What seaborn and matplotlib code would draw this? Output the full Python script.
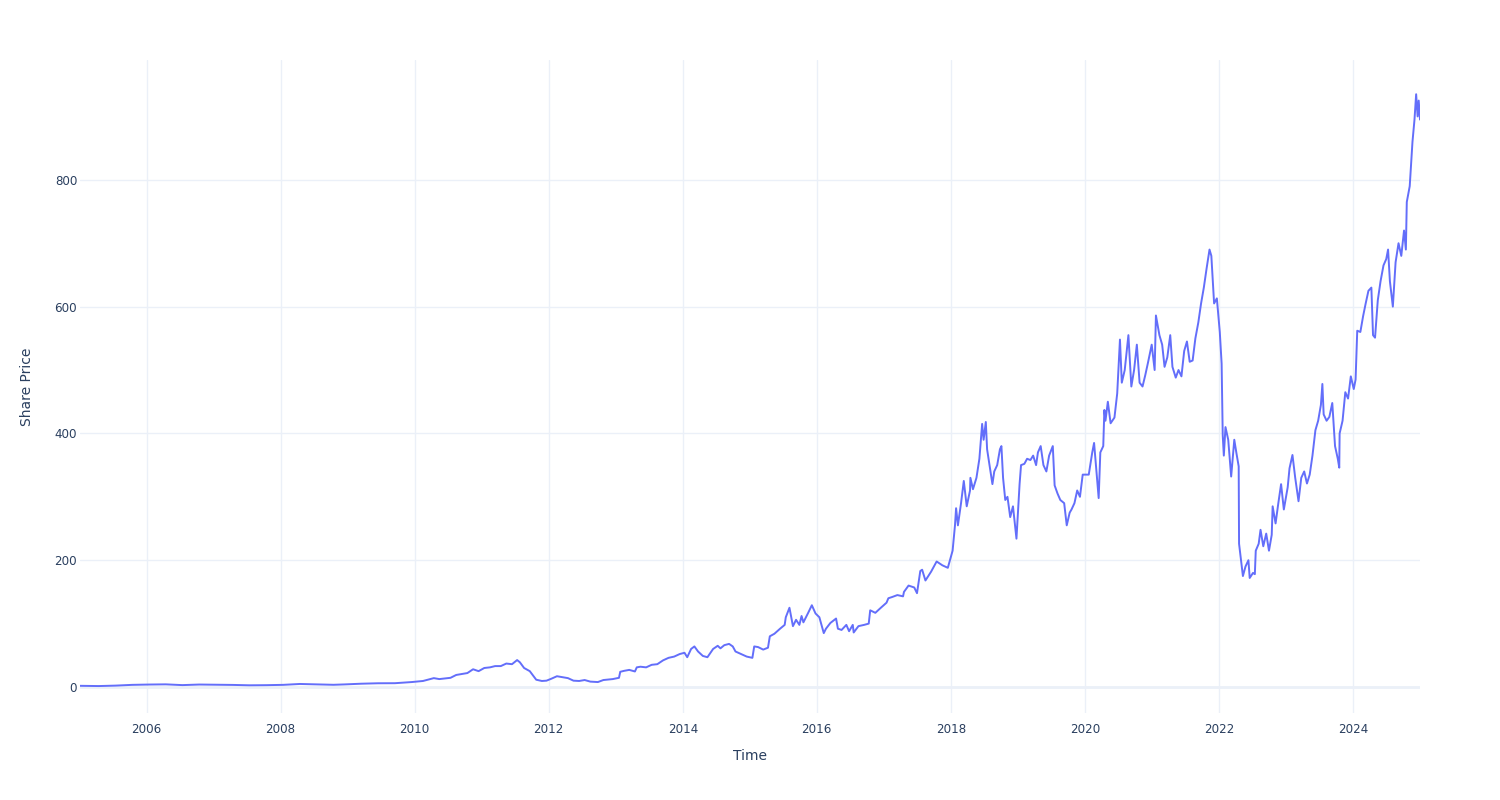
import matplotlib
matplotlib.use("Agg")
import matplotlib.pyplot as plt
import matplotlib.dates as mdates
import seaborn as sns
import pandas as pd

dates = [
    "2005-01-03", "2005-04-15", "2005-07-15", "2005-10-15", "2006-01-15", "2006-04-15",
    "2006-07-15", "2006-10-15", "2007-01-15", "2007-04-15", "2007-07-15", "2007-10-15",
    "2008-01-15", "2008-04-15", "2008-07-15", "2008-10-15", "2008-12-15", "2009-03-15",
    "2009-06-15", "2009-09-15", "2009-12-15", "2010-02-15", "2010-04-15", "2010-05-15",
    "2010-07-15", "2010-08-15", "2010-10-15", "2010-11-15", "2010-12-15", "2011-01-15",
    "2011-02-15", "2011-03-15", "2011-04-15", "2011-05-15", "2011-06-15", "2011-07-13",
    "2011-07-28", "2011-08-20", "2011-09-20", "2011-10-25", "2011-11-25", "2011-12-20",
    "2012-01-15", "2012-02-15", "2012-03-15", "2012-04-15", "2012-05-15", "2012-06-15",
    "2012-07-15", "2012-08-15", "2012-09-25", "2012-10-25", "2012-12-15", "2013-01-18",
    "2013-01-25", "2013-02-15", "2013-03-15", "2013-04-15", "2013-04-25", "2013-05-15",
    "2013-06-15", "2013-07-15", "2013-08-15", "2013-09-15", "2013-10-15", "2013-11-15",
    "2013-12-15", "2014-01-10", "2014-01-25", "2014-02-15", "2014-03-05", "2014-03-25",
    "2014-04-20", "2014-05-15", "2014-06-15", "2014-07-10", "2014-07-25", "2014-08-15",
    "2014-09-10", "2014-09-30", "2014-10-15", "2014-11-15", "2014-12-15", "2015-01-15",
    "2015-01-25", "2015-02-15", "2015-03-15", "2015-04-10", "2015-04-20", "2015-05-15",
    "2015-06-15", "2015-07-10", "2015-07-16", "2015-08-05", "2015-08-24", "2015-09-10",
    "2015-09-28", "2015-10-10", "2015-10-20", "2015-11-15", "2015-12-05", "2015-12-25",
    "2016-01-15", "2016-02-08", "2016-02-20", "2016-03-15", "2016-04-15", "2016-04-25",
    "2016-05-15", "2016-06-10", "2016-06-25", "2016-07-15", "2016-07-20", "2016-08-15",
    "2016-09-15", "2016-10-10", "2016-10-18", "2016-11-15", "2016-12-15", "2017-01-15",
    "2017-01-25", "2017-02-15", "2017-03-15", "2017-04-15", "2017-04-20", "2017-05-15",
    "2017-06-15", "2017-06-30", "2017-07-18", "2017-07-28", "2017-08-15", "2017-09-15",
    "2017-10-15", "2017-11-15", "2017-12-15", "2018-01-10", "2018-01-23", "2018-01-29",
    "2018-02-08", "2018-02-25", "2018-03-12", "2018-03-28", "2018-04-15", "2018-04-17",
    "2018-05-01", "2018-05-20", "2018-06-05", "2018-06-20", "2018-06-28", "2018-07-10",
    "2018-07-17", "2018-07-27", "2018-08-15", "2018-08-25", "2018-09-10", "2018-09-25",
    "2018-10-03", "2018-10-12", "2018-10-24", "2018-11-05", "2018-11-20", "2018-12-05",
    "2018-12-24", "2019-01-10", "2019-01-18", "2019-02-05", "2019-02-20", "2019-03-10",
    "2019-03-25", "2019-04-10", "2019-04-20", "2019-05-05", "2019-05-20", "2019-06-05",
    "2019-06-20", "2019-07-10", "2019-07-20", "2019-08-05", "2019-08-20", "2019-09-10",
    "2019-09-24", "2019-10-10", "2019-10-20", "2019-11-05", "2019-11-20", "2019-12-05",
    "2019-12-20", "2020-01-10", "2020-01-22", "2020-02-10", "2020-02-20", "2020-03-16",
    "2020-03-25", "2020-04-10", "2020-04-16", "2020-04-22", "2020-05-05", "2020-05-20",
    "2020-06-10", "2020-06-25", "2020-07-10", "2020-07-20", "2020-08-05", "2020-08-25",
    "2020-09-10", "2020-09-25", "2020-10-10", "2020-10-25", "2020-11-10", "2020-11-25",
    "2020-12-10", "2020-12-30", "2021-01-15", "2021-01-22", "2021-02-10", "2021-02-25",
    "2021-03-10", "2021-03-25", "2021-04-10", "2021-04-22", "2021-05-10", "2021-05-25",
    "2021-06-10", "2021-06-25", "2021-07-10", "2021-07-25", "2021-08-10", "2021-08-25",
    "2021-09-10", "2021-09-25", "2021-10-10", "2021-10-25", "2021-11-10", "2021-11-20",
    "2021-12-05", "2021-12-20", "2022-01-05", "2022-01-15", "2022-01-21", "2022-01-27",
    "2022-02-05", "2022-02-20", "2022-03-08", "2022-03-25", "2022-04-05", "2022-04-18",
    "2022-04-20", "2022-05-01", "2022-05-11", "2022-05-25", "2022-06-10", "2022-06-17",
    "2022-07-05", "2022-07-15", "2022-07-20", "2022-08-05", "2022-08-15", "2022-08-30",
    "2022-09-15", "2022-09-30", "2022-10-15", "2022-10-20", "2022-11-05", "2022-11-20",
    "2022-12-05", "2022-12-20", "2023-01-10", "2023-01-20", "2023-02-05", "2023-02-20",
    "2023-03-10", "2023-03-25", "2023-04-10", "2023-04-25", "2023-05-10", "2023-05-25",
    "2023-06-10", "2023-06-25", "2023-07-10", "2023-07-18", "2023-07-25", "2023-08-10",
    "2023-08-25", "2023-09-10", "2023-09-25", "2023-10-10", "2023-10-18", "2023-10-20",
    "2023-11-05", "2023-11-20", "2023-12-05", "2023-12-20", "2024-01-05", "2024-01-15",
    "2024-01-24", "2024-02-10", "2024-02-25", "2024-03-10", "2024-03-25", "2024-04-10",
    "2024-04-19", "2024-04-30", "2024-05-15", "2024-05-30", "2024-06-15", "2024-06-30",
    "2024-07-10", "2024-07-20", "2024-08-05", "2024-08-20", "2024-09-05", "2024-09-20",
    "2024-10-05", "2024-10-15", "2024-10-20", "2024-11-05", "2024-11-20", "2024-12-01",
    "2024-12-10", "2024-12-18", "2024-12-24", "2024-12-31",
]

prices = [
    1.9, 1.5, 2.2, 3.4, 3.9, 4.2,
    3.0, 3.9, 3.6, 3.3, 2.7, 2.9,
    3.4, 4.8, 4.2, 3.5, 4.1, 5.2,
    5.9, 6.0, 7.8, 9.5, 14, 12.5,
    14.5, 19, 22, 28, 25, 30,
    31, 33, 33, 37, 36, 42.5,
    39, 30, 25, 11.5, 9.5, 10,
    13, 17, 15.5, 14, 10, 9.5,
    11, 8.5, 7.8, 11, 12.5, 14.5,
    24, 25.5, 27, 24.5, 31, 32,
    31, 35, 36, 42, 46, 48,
    52, 54, 47, 60, 64, 56,
    49, 47, 60, 65, 61, 66,
    68, 64, 56, 52, 48, 46,
    64, 63, 59, 62, 80, 84,
    92, 98, 110, 125, 96, 106,
    98, 112, 102, 117, 129, 116,
    110, 85, 92, 101, 108, 92,
    90, 98, 88, 98, 86, 96,
    98, 100, 121, 117, 125, 133,
    140, 142, 145, 143, 150, 160,
    157, 148, 183, 185, 168, 182,
    198, 192, 188, 215, 255, 282,
    255, 290, 325, 285, 310, 330,
    312, 330, 360, 415, 390, 418,
    375, 356, 320, 340, 350, 375,
    380, 330, 295, 300, 268, 285,
    234, 320, 350, 352, 360, 358,
    365, 350, 370, 380, 350, 340,
    365, 380, 318, 305, 295, 290,
    255, 275, 280, 290, 310, 300,
    335, 335, 335, 370, 385, 298,
    370, 380, 437, 420, 450, 416,
    425, 463, 548, 480, 500, 555,
    474, 500, 540, 480, 474, 492,
    512, 540, 500, 586, 555, 540,
    505, 520, 555, 505, 488, 500,
    490, 530, 545, 513, 515, 550,
    575, 605, 630, 660, 690, 680,
    605, 613, 560, 510, 397, 365,
    410, 390, 332, 390, 370, 348,
    226, 200, 175, 190, 200, 172,
    180, 178, 215, 226, 248, 222,
    242, 215, 240, 285, 258, 290,
    320, 280, 315, 345, 366, 330,
    293, 330, 340, 321, 335, 365,
    405, 420, 445, 478, 430, 420,
    426, 448, 380, 360, 346, 400,
    420, 465, 455, 490, 470, 485,
    562, 560, 585, 605, 625, 630,
    555, 551, 610, 640, 665, 675,
    690, 640, 600, 670, 700, 680,
    720, 690, 765, 790, 860, 895,
    935, 900, 925, 895,
]

x_title = "Time"
y_title = "Share Price"

df = pd.DataFrame({"Time": pd.to_datetime(dates), "Price": prices})

sns.set_theme(style="white")
plt.rcParams["font.family"] = ["DejaVu Sans"]

text_color = "#2a3f5f"
grid_color = "#EBF0F8"

fig = plt.figure(figsize=(15, 8), dpi=100)
ax = fig.add_axes([80 / 1500, 1 - 713 / 800, 1340 / 1500, 653 / 800])
ax.set_facecolor("white")

sns.lineplot(data=df, x="Time", y="Price", ax=ax, color="#636EFA", linewidth=1.4, zorder=3)

ax.set_xlim(df["Time"].min(), df["Time"].max())
ax.set_ylim(-41, 989)

ax.xaxis.set_major_locator(mdates.YearLocator(2))
ax.xaxis.set_major_formatter(mdates.DateFormatter("%Y"))
ax.set_yticks([0, 200, 400, 600, 800])

ax.grid(True, color=grid_color, linewidth=1, zorder=0)
ax.axhline(0, color=grid_color, linewidth=2, zorder=1)
for s in ax.spines.values():
    s.set_visible(False)

ax.tick_params(axis="x", length=0, pad=7, labelsize=8.6, labelcolor=text_color)
ax.tick_params(axis="y", length=0, pad=2, labelsize=8.6, labelcolor=text_color)

ax.set_xlabel(x_title, fontsize=10, color=text_color)
ax.set_ylabel(y_title, fontsize=10, color=text_color)
ax.xaxis.set_label_coords(0.5, -(756 - 713) / 653)
ax.xaxis.label.set_va("center")
ax.yaxis.set_label_coords(-(80 - 27) / 1340, 0.5)
ax.yaxis.label.set_va("center")

fig.savefig("out.png", dpi=100, facecolor="white")
